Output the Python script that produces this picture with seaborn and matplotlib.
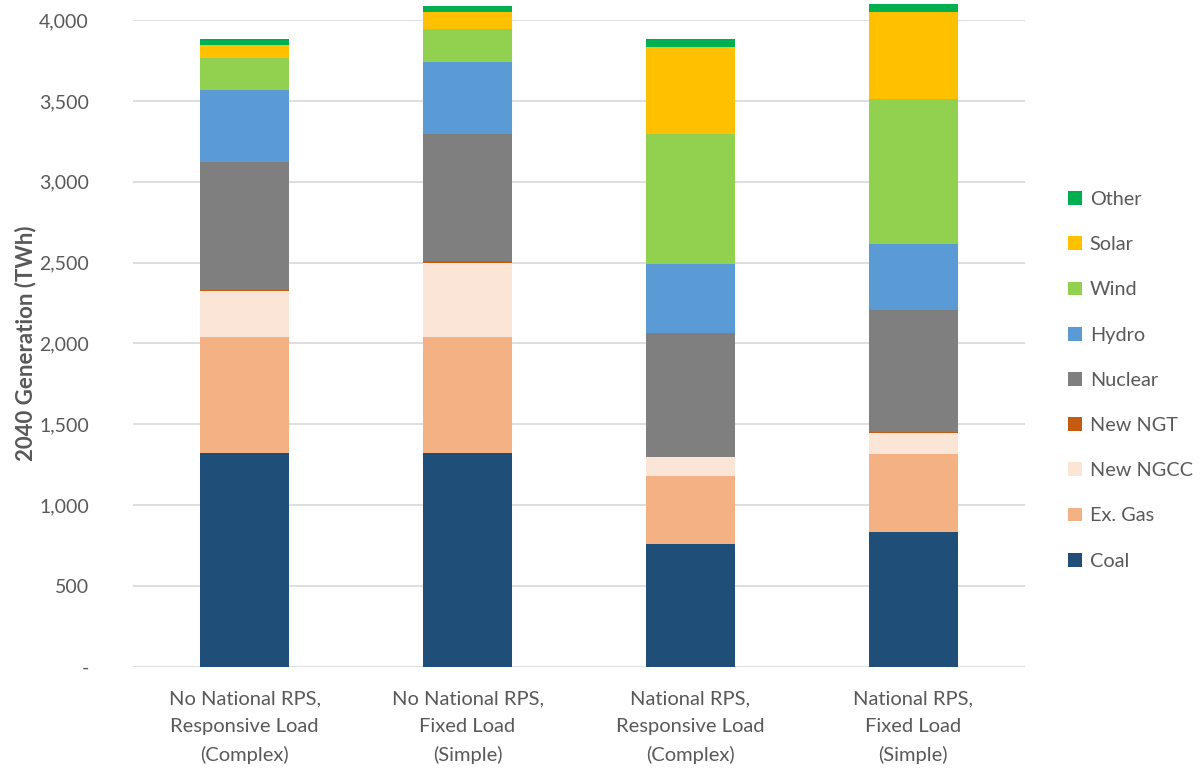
import numpy as np
import pandas as pd
import matplotlib
matplotlib.use('Agg')
import matplotlib.pyplot as plt
import seaborn as sns
from matplotlib.patches import Patch
from matplotlib.ticker import FuncFormatter

scenarios = ['No National RPS,\nResponsive Load\n(Complex)',
             'No National RPS,\nFixed Load\n(Simple)',
             'National RPS,\nResponsive Load\n(Complex)',
             'National RPS,\nFixed Load\n(Simple)']

# stack order, bottom to top
sources = ['Coal', 'Ex. Gas', 'New NGCC', 'New NGT', 'Nuclear', 'Hydro', 'Wind', 'Solar', 'Other']
colors = ['#1F4E79', '#F4B183', '#FBE5D6', '#C55A11', '#7F7F7F', '#5B9BD5', '#92D050', '#FFC000', '#00B050']

# 2040 generation, TWh
coal = [1321, 1321, 759, 833]
ex_gas = [717, 717, 420, 482]
new_ngcc = [287, 458, 117, 132]
new_ngt = [6, 12, 2, 6]
nuclear = [791, 787, 769, 756]
hydro = [445, 445, 423, 406]
wind = [198, 204, 805, 897]
solar = [79, 103, 538, 535]
other = [39, 41, 50, 50]

yticks = [0, 500, 1000, 1500, 2000, 2500, 3000, 3500, 4000]

sns.set_style('white')
plt.rcParams['font.family'] = ['Lato', 'DejaVu Sans']

df = pd.DataFrame({'Coal': coal, 'Ex. Gas': ex_gas, 'New NGCC': new_ngcc, 'New NGT': new_ngt,
                   'Nuclear': nuclear, 'Hydro': hydro, 'Wind': wind, 'Solar': solar, 'Other': other},
                  index=scenarios)
cum = df[sources].cumsum(axis=1)  # cumulative tops for stacking

fig = plt.figure(figsize=(12, 7.7), dpi=100)
ax = fig.add_axes([0.111, 0.1338, 0.743, 0.8402])

# draw from the tallest cumulative layer down so each lower layer covers the one above
for src, col in zip(reversed(sources), reversed(colors)):
    sns.barplot(x=list(range(len(scenarios))), y=cum[src].values, color=col, width=0.4,
                linewidth=0, saturation=1, ax=ax, zorder=3)
for p in ax.patches:
    p.set_clip_on(False)

ax.set_ylim(0, 4000)
ax.set_xlim(-0.5, len(scenarios) - 0.5)
ax.set_yticks(yticks)
ax.yaxis.set_major_formatter(FuncFormatter(lambda v, pos: '-' if v == 0 else f'{v:,.0f}'))
ax.set_xticks(range(len(scenarios)))
ax.set_xticklabels(scenarios, fontsize=14.5, color='#595959', linespacing=1.75)
ax.tick_params(axis='y', labelsize=14, labelcolor='#595959', length=0, pad=32)
ax.tick_params(axis='x', length=0, pad=17)
ax.grid(axis='y', color='#D9D9D9', linewidth=1.2, zorder=0)
ax.set_axisbelow(True)
for s in ax.spines.values():
    s.set_visible(False)
ax.set_ylabel('2040 Generation (TWh)', fontsize=16, fontweight='bold', color='#595959')
ax.yaxis.set_label_coords(-0.109, 0.5)

handles = [Patch(facecolor=c, edgecolor='none', label=s) for s, c in zip(sources, colors)]
leg = fig.legend(handles=handles[::-1], loc='center left', bbox_to_anchor=(0.875, 0.506),
                 frameon=False, fontsize=14.3, handlelength=0.7, handleheight=0.7,
                 handletextpad=0.4, labelspacing=1.42)
for t in leg.get_texts():
    t.set_color('#595959')

fig.savefig('out.png', dpi=100)
